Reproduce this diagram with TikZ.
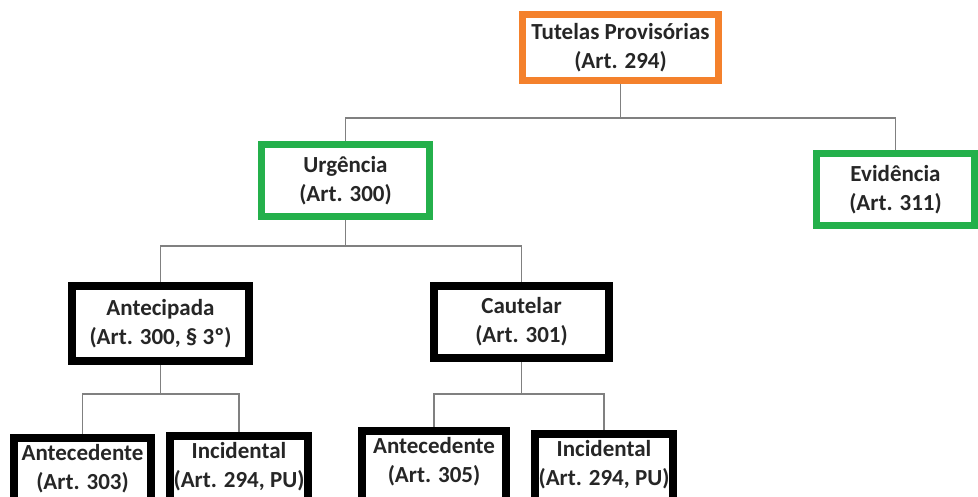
\documentclass[tikz,border=0pt]{standalone}
\usepackage{fontspec}
\setmainfont{Carlito}
\usepackage{xcolor}
\usetikzlibrary{calc}
\definecolor{boxorange}{HTML}{F4812C}
\definecolor{boxgreen}{HTML}{24B04B}
\definecolor{linegray}{HTML}{808080}
\definecolor{textdark}{HTML}{262626}

\begin{document}
\begin{tikzpicture}[x=1pt,y=1pt,
    every node/.style={align=center,text=textdark,font=\fontsize{23}{29}\selectfont\bfseries},
    main box/.style={draw,fill=white,inner sep=0pt},
    orange box/.style={main box,draw=boxorange,line width=7pt},
    green box/.style={main box,draw=boxgreen,line width=7pt},
    black box/.style={main box,draw=black,line width=8pt},
    link/.style={draw=linegray,line width=1.6pt}]

  \useasboundingbox (0,0) rectangle (978,-496);
  \clip (0,0) rectangle (978,-496);

  % top level
  \node[orange box,minimum width=196,minimum height=66] (tutelas) at (620.5,-47.5)
    {Tutelas Provisórias\\(Art. 294)};

  % second level
  \node[green box,minimum width=168,minimum height=72] (urgencia) at (345.5,-180.5)
    {Urgência\\(Art. 300)};
  \node[green box,minimum width=158,minimum height=72] (evidencia) at (895.5,-189.5)
    {Evidência\\(Art. 311)};

  % third level
  \node[black box,minimum width=177,minimum height=75] (antecipada) at (160.5,-323.5)
    {Antecipada\\(Art. 300, § 3º)};
  \node[black box,minimum width=175,minimum height=72] (cautelar) at (521.5,-322)
    {Cautelar\\(Art. 301)};

  % bottom level (cut by the page)
  \node[black box,minimum width=137,minimum height=80,anchor=north] (antec1) at (82.5,-434)
    {Antecedente\\(Art. 303)\rule[-22pt]{0pt}{0pt}};
  \node[black box,minimum width=138,minimum height=80,anchor=north] (incid1) at (239,-432)
    {Incidental\\(Art. 294, PU)\rule[-22pt]{0pt}{0pt}};
  \node[black box,minimum width=144,minimum height=80,anchor=north] (antec2) at (434,-427)
    {Antecedente\\(Art. 305)\rule[-22pt]{0pt}{0pt}};
  \node[black box,minimum width=138,minimum height=80,anchor=north] (incid2) at (604,-430)
    {Incidental\\(Art. 294, PU)\rule[-22pt]{0pt}{0pt}};

  % connectors
  \path[link] (tutelas.south) -- ++(0,-34) coordinate (t1) -| (urgencia.north);
  \path[link] (t1) -| (evidencia.north);
  \path[link] (urgencia.south) -- ++(0,-26) coordinate (u1) -| (antecipada.north);
  \path[link] (u1) -| (cautelar.north);
  \path[link] (antecipada.south) -- ++(0,-29) coordinate (a1) -| (antec1.north);
  \path[link] (a1) -| (incid1.north);
  \path[link] (cautelar.south) -- ++(0,-32) coordinate (c1) -| (antec2.north);
  \path[link] (c1) -| (incid2.north);
\end{tikzpicture}
\end{document}
